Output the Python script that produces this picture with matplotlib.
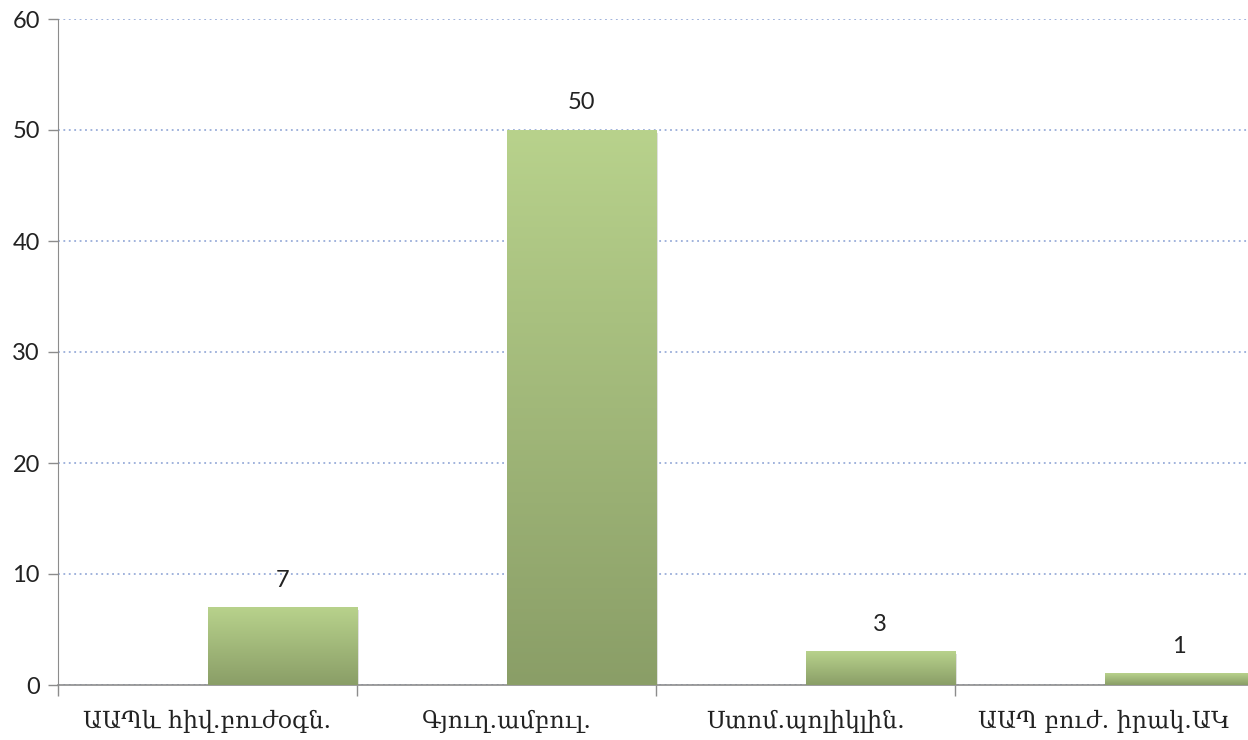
import numpy as np
import matplotlib.pyplot as plt
from matplotlib.colors import LinearSegmentedColormap

categories = ['ԱԱՊև հիվ.բուժօգն.', 'Գյուղ.ամբուլ.', 'Ստոմ.պոլիկլին.', 'ԱԱՊ բուժ. իրակ.ԱԿ']
values = [7, 50, 3, 1]
yticks = [0, 10, 20, 30, 40, 50, 60]

fig = plt.figure(figsize=(12.48, 7.4), dpi=100)
ax = fig.add_axes([58 / 1248, 55 / 740, (1254 - 58) / 1248, (685 - 19) / 740])

x = np.arange(len(categories))
bars = ax.bar(x, values, width=0.5, align='edge', color='none', zorder=3)

# vertical gradient for every bar, light on top, darker at bottom
cmap = LinearSegmentedColormap.from_list('grn', ['#8a9e67', '#b8d28c'])
grad = np.linspace(0, 1, 256).reshape(-1, 1)
num_font = ['Lato', 'DejaVu Sans']
for b in bars:
    x0, w, h = b.get_x(), b.get_width(), b.get_height()
    # soft shadow
    ax.add_patch(plt.Rectangle((x0 + 0.006, -0.25), w, h, color='#000000', alpha=0.12, zorder=2, lw=0))
    ax.imshow(grad, cmap=cmap, extent=(x0, x0 + w, 0, h), origin='lower', aspect='auto', zorder=3)
    ax.text(x0 + w / 2, h + 1.5, str(h), ha='center', va='bottom', fontsize=17, family=num_font, color='#222222')

ax.set_xlim(-0.5, len(categories) - 0.5)
ax.set_ylim(0, 60)
ax.set_yticks(yticks)
ax.set_yticklabels([str(v) for v in yticks], fontsize=17, family=num_font, color='#222222')
ax.set_xticks(x)
ax.set_xticklabels(categories, fontsize=17, family=['DejaVu Serif', 'DejaVu Sans'], color='#222222')
ax.set_xticks(np.arange(len(categories) + 1) - 0.5, minor=True)
ax.tick_params(axis='x', which='major', length=0, pad=18)
ax.tick_params(axis='x', which='minor', length=8, color='#8c8c8c', width=1)
ax.tick_params(axis='y', length=7, color='#8c8c8c', width=1, pad=6)

ax.yaxis.grid(True, linestyle=(0, (1, 2)), color='#98acd9', linewidth=1.3, zorder=0)
ax.set_axisbelow(True)
for s in ['top', 'right']:
    ax.spines[s].set_visible(False)
ax.spines['left'].set_color('#8c8c8c')
ax.spines['bottom'].set_color('#8c8c8c')
ax.spines['bottom'].set_linewidth(1.2)

fig.savefig('out.png', dpi=100)
